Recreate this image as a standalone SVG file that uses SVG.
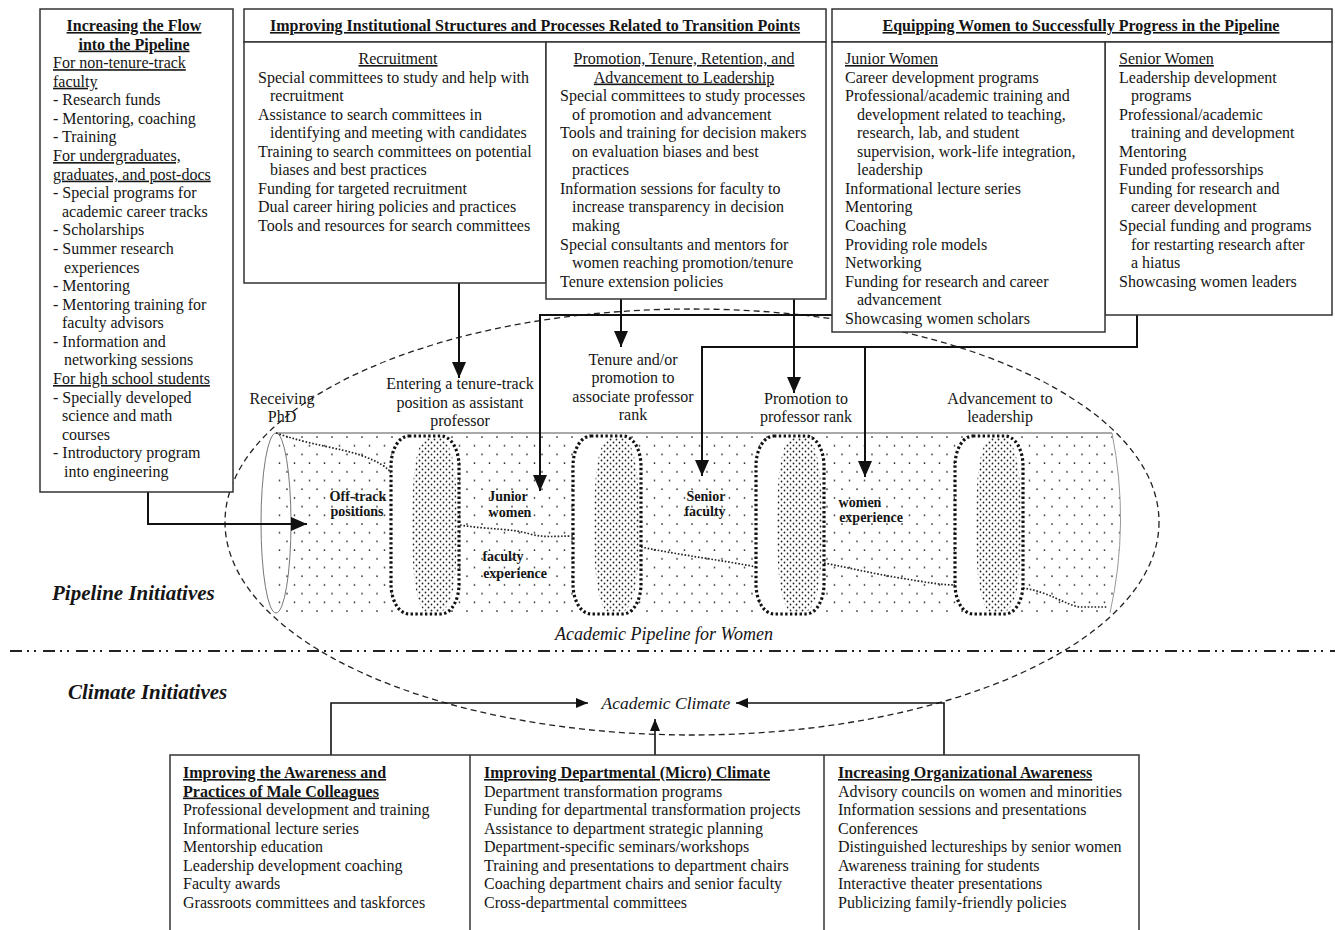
<svg xmlns="http://www.w3.org/2000/svg" width="1335" height="930" viewBox="0 0 1335 930">
<style>
.t{font-family:"Liberation Serif","Times New Roman",serif;font-size:16px;fill:#151515}
.b{font-weight:bold}
.u{text-decoration:underline}
.i{font-style:italic}
.c{text-anchor:middle}
.lbl{font-family:"Liberation Serif","Times New Roman",serif;font-size:14px;font-weight:bold;fill:#151515;text-anchor:middle}
.box{fill:#fff;stroke:#333;stroke-width:1.5}
.con{fill:none;stroke:#111;stroke-width:2}
.ring{fill:#fff;stroke:#111;stroke-width:3.2;stroke-dasharray:2.4 2.4}
.traj{fill:none;stroke:#222;stroke-width:1.7;stroke-dasharray:1.6 1.8}
</style>
<defs>
<pattern id="sparse" width="15" height="17.4" patternUnits="userSpaceOnUse"><circle cx="2" cy="2" r="0.9" fill="#222"/><circle cx="9.5" cy="10.7" r="0.9" fill="#222"/></pattern>
<pattern id="dense" width="6" height="6" patternUnits="userSpaceOnUse"><circle cx="1.5" cy="1.5" r="0.9" fill="#222"/><circle cx="4.5" cy="4.5" r="0.9" fill="#222"/></pattern>
<marker id="ah" markerUnits="userSpaceOnUse" markerWidth="16" markerHeight="14" refX="16" refY="7" orient="auto"><path d="M0,0 L16,7 L0,14 Z" fill="#111"/></marker>
<marker id="ahs" markerUnits="userSpaceOnUse" markerWidth="12" markerHeight="10" refX="12" refY="5" orient="auto"><path d="M0,0 L12,5 L0,10 Z" fill="#111"/></marker>
</defs>

<!-- pipeline -->
<g id="pipeline">
<path d="M276,433 L1112,433 Q1130,523 1110,613 L276,613 Z" fill="url(#sparse)"/>
<line x1="276" y1="433" x2="1112" y2="433" stroke="#555" stroke-width="1"/>
<path d="M1112,433 Q1130,523 1110,613" fill="none" stroke="#999" stroke-width="1"/>
<ellipse cx="276" cy="523" rx="15" ry="90" fill="none" stroke="#777" stroke-width="1"/>
<path class="traj" d="M276,433 C310,445 340,448 360,455 C380,462 388,468 392,474"/>
<path class="traj" d="M460,525 C490,530 510,528 530,534 C545,538 555,536 573,536"/>
<path class="traj" d="M641,547 C680,555 720,560 757,567"/>
<path class="traj" d="M824,563 C850,568 870,573 900,578 C925,582 940,585 956,585"/>
<path class="traj" d="M1023,588 C1050,592 1065,605 1080,607 L1108,607"/>
<g id="ring1" transform="translate(391,0)"><rect class="ring" x="0" y="436" width="68" height="178" rx="18" ry="30"/><path d="M35,438 C24,445 21,480 21,525 C21,570 24,606 35,612 L50,612 C62,606 66,580 66,525 C66,470 62,444 50,438 Z" fill="url(#dense)"/></g>
<g id="ring2" transform="translate(573,0)"><rect class="ring" x="0" y="436" width="68" height="178" rx="18" ry="30"/><path d="M35,438 C24,445 21,480 21,525 C21,570 24,606 35,612 L50,612 C62,606 66,580 66,525 C66,470 62,444 50,438 Z" fill="url(#dense)"/></g>
<g id="ring3" transform="translate(756,0)"><rect class="ring" x="0" y="436" width="68" height="178" rx="18" ry="30"/><path d="M35,438 C24,445 21,480 21,525 C21,570 24,606 35,612 L50,612 C62,606 66,580 66,525 C66,470 62,444 50,438 Z" fill="url(#dense)"/></g>
<g id="ring4" transform="translate(955,0)"><rect class="ring" x="0" y="436" width="68" height="178" rx="18" ry="30"/><path d="M35,438 C24,445 21,480 21,525 C21,570 24,606 35,612 L50,612 C62,606 66,580 66,525 C66,470 62,444 50,438 Z" fill="url(#dense)"/></g>
<text class="lbl"><tspan x="358" y="501">Off-track</tspan><tspan x="357" y="516">positions</tspan></text>
<text class="lbl"><tspan x="508" y="501">Junior</tspan><tspan x="510" y="517">women</tspan></text>
<text class="lbl"><tspan x="503" y="561">faculty</tspan><tspan x="515" y="578">experience</tspan></text>
<text class="lbl"><tspan x="706" y="501">Senior</tspan><tspan x="705" y="516">faculty</tspan></text>
<text class="lbl"><tspan x="860" y="507">women</tspan><tspan x="871" y="522">experience</tspan></text>
</g>

<ellipse id="pipeline-boundary" cx="692" cy="522" rx="467" ry="213" fill="none" stroke="#222" stroke-width="1.3" stroke-dasharray="6 4"/>
<line id="divider" x1="10" y1="651" x2="1335" y2="651" stroke="#222" stroke-width="2" stroke-dasharray="12 5 2 5 2 7"/>

<g id="stage-labels">
<text class="t c"><tspan x="282" y="404">Receiving</tspan><tspan x="282" y="422">PhD</tspan></text>
<text class="t c"><tspan x="460" y="389">Entering a tenure-track</tspan><tspan x="460" y="408">position as assistant</tspan><tspan x="460" y="426">professor</tspan></text>
<text class="t c"><tspan x="633" y="365">Tenure and/or</tspan><tspan x="633" y="383">promotion to</tspan><tspan x="633" y="402">associate professor</tspan><tspan x="633" y="420">rank</tspan></text>
<text class="t c"><tspan x="806" y="404">Promotion to</tspan><tspan x="806" y="422">professor rank</tspan></text>
<text class="t c"><tspan x="1000" y="404">Advancement to</tspan><tspan x="1000" y="422">leadership</tspan></text>
<text class="t i c" x="664" y="640" style="font-size:18px">Academic Pipeline for Women</text>
<text class="t i c" x="666" y="709" style="font-size:17.5px">Academic Climate</text>
<text class="t b i" x="52" y="600" style="font-size:21px">Pipeline Initiatives</text>
<text class="t b i" x="68" y="699" style="font-size:21px">Climate Initiatives</text>
</g>

<g id="connectors">
<polyline class="con" points="148,492 148,524 307,524" marker-end="url(#ah)"/>
<line class="con" x1="459" y1="283" x2="459" y2="378" marker-end="url(#ah)"/>
<line class="con" x1="621" y1="287" x2="621" y2="347" marker-end="url(#ah)"/>
<line class="con" x1="794" y1="287" x2="794" y2="393" marker-end="url(#ah)"/>
<polyline class="con" points="832,315 540,315 540,491" marker-end="url(#ah)"/>
<polyline class="con" points="1137,315 1137,347 702,347 702,476" marker-end="url(#ah)"/>
<line class="con" x1="865" y1="347" x2="865" y2="477" marker-end="url(#ah)"/>
<polyline class="con" points="331,755 331,703 588,703" marker-end="url(#ahs)" style="stroke-width:1.6"/>
<polyline class="con" points="944,755 944,703 736,703" marker-end="url(#ahs)" style="stroke-width:1.6"/>
<line class="con" x1="655" y1="755" x2="655" y2="719" marker-end="url(#ahs)" style="stroke-width:1.6"/>
</g>

<g id="flow-box">
<rect class="box" x="40" y="9" width="193" height="483"/>
<text class="t">
<tspan class="b u c" x="136" y="31">Increasing the Flow</tspan>
<tspan class="b u c" x="136" dy="18.58">into the Pipeline</tspan>
<tspan class="u" x="53" dy="18.58">For non-tenure-track</tspan>
<tspan class="u" x="53" dy="18.58">faculty</tspan>
<tspan x="53" dy="18.58">- Research funds</tspan>
<tspan x="53" dy="18.58">- Mentoring, coaching</tspan>
<tspan x="53" dy="18.58">- Training</tspan>
<tspan class="u" x="53" dy="18.58">For undergraduates,</tspan>
<tspan class="u" x="53" dy="18.58">graduates, and post-docs</tspan>
<tspan x="53" dy="18.58">- Special programs for</tspan>
<tspan x="62" dy="18.58">academic career tracks</tspan>
<tspan x="53" dy="18.58">- Scholarships</tspan>
<tspan x="53" dy="18.58">- Summer research</tspan>
<tspan x="64" dy="18.58">experiences</tspan>
<tspan x="53" dy="18.58">- Mentoring</tspan>
<tspan x="53" dy="18.58">- Mentoring training for</tspan>
<tspan x="62" dy="18.58">faculty advisors</tspan>
<tspan x="53" dy="18.58">- Information and</tspan>
<tspan x="64" dy="18.58">networking sessions</tspan>
<tspan class="u" x="53" dy="18.58">For high school students</tspan>
<tspan x="53" dy="18.58">- Specially developed</tspan>
<tspan x="62" dy="18.58">science and math</tspan>
<tspan x="62" dy="18.58">courses</tspan>
<tspan x="53" dy="18.58">- Introductory program</tspan>
<tspan x="64" dy="18.58">into engineering</tspan>
</text>
</g>

<g id="institutional-box">
<rect class="box" x="244" y="9" width="582" height="33"/>
<rect class="box" x="244" y="42" width="302" height="241"/>
<rect class="box" x="546" y="42" width="280" height="257"/>
<text class="t b u c" x="535" y="31">Improving Institutional Structures and Processes Related to Transition Points</text>
<text class="t">
<tspan class="u c" x="400" y="64">Recruitment</tspan>
<tspan x="258" dy="18.55">Special committees to study and help with</tspan>
<tspan x="270" dy="18.55">recruitment</tspan>
<tspan x="258" dy="18.55">Assistance to search committees in</tspan>
<tspan x="270" dy="18.55">identifying and meeting with candidates</tspan>
<tspan x="258" dy="18.55">Training to search committees on potential</tspan>
<tspan x="270" dy="18.55">biases and best practices</tspan>
<tspan x="258" dy="18.55">Funding for targeted recruitment</tspan>
<tspan x="258" dy="18.55">Dual career hiring policies and practices</tspan>
<tspan x="258" dy="18.55">Tools and resources for search committees</tspan>
</text>
<text class="t">
<tspan class="u c" x="686" y="64">Promotion, Tenure, Retention, and</tspan>
<tspan class="u c" x="686" dy="18.55">Advancement to Leadership</tspan>
<tspan x="560" dy="18.55">Special committees to study processes</tspan>
<tspan x="572" dy="18.55">of promotion and advancement</tspan>
<tspan x="560" dy="18.55">Tools and training for decision makers</tspan>
<tspan x="572" dy="18.55">on evaluation biases and best</tspan>
<tspan x="572" dy="18.55">practices</tspan>
<tspan x="560" dy="18.55">Information sessions for faculty to</tspan>
<tspan x="572" dy="18.55">increase transparency in decision</tspan>
<tspan x="572" dy="18.55">making</tspan>
<tspan x="560" dy="18.55">Special consultants and mentors for</tspan>
<tspan x="572" dy="18.55">women reaching promotion/tenure</tspan>
<tspan x="560" dy="18.55">Tenure extension policies</tspan>
</text>
</g>

<g id="equipping-box">
<rect class="box" x="832" y="9" width="500" height="33"/>
<rect class="box" x="1105" y="42" width="227" height="273"/>
<rect class="box" x="832" y="42" width="273" height="290"/>
<text class="t b u c" x="1081" y="31">Equipping Women to Successfully Progress in the Pipeline</text>
<text class="t">
<tspan class="u" x="845" y="64">Junior Women</tspan>
<tspan x="845" dy="18.55">Career development programs</tspan>
<tspan x="845" dy="18.55">Professional/academic training and</tspan>
<tspan x="857" dy="18.55">development related to teaching,</tspan>
<tspan x="857" dy="18.55">research, lab, and student</tspan>
<tspan x="857" dy="18.55">supervision, work-life integration,</tspan>
<tspan x="857" dy="18.55">leadership</tspan>
<tspan x="845" dy="18.55">Informational lecture series</tspan>
<tspan x="845" dy="18.55">Mentoring</tspan>
<tspan x="845" dy="18.55">Coaching</tspan>
<tspan x="845" dy="18.55">Providing role models</tspan>
<tspan x="845" dy="18.55">Networking</tspan>
<tspan x="845" dy="18.55">Funding for research and career</tspan>
<tspan x="857" dy="18.55">advancement</tspan>
<tspan x="845" dy="18.55">Showcasing women scholars</tspan>
</text>
<text class="t">
<tspan class="u" x="1119" y="64">Senior Women</tspan>
<tspan x="1119" dy="18.55">Leadership development</tspan>
<tspan x="1131" dy="18.55">programs</tspan>
<tspan x="1119" dy="18.55">Professional/academic</tspan>
<tspan x="1131" dy="18.55">training and development</tspan>
<tspan x="1119" dy="18.55">Mentoring</tspan>
<tspan x="1119" dy="18.55">Funded professorships</tspan>
<tspan x="1119" dy="18.55">Funding for research and</tspan>
<tspan x="1131" dy="18.55">career development</tspan>
<tspan x="1119" dy="18.55">Special funding and programs</tspan>
<tspan x="1131" dy="18.55">for restarting research after</tspan>
<tspan x="1131" dy="18.55">a hiatus</tspan>
<tspan x="1119" dy="18.55">Showcasing women leaders</tspan>
</text>
</g>

<g id="climate-box">
<rect class="box" x="170" y="755" width="969" height="200"/>
<line x1="470" y1="755" x2="470" y2="935" stroke="#333" stroke-width="1.5"/>
<line x1="824" y1="755" x2="824" y2="935" stroke="#333" stroke-width="1.5"/>
<text class="t">
<tspan class="b u" x="183" y="778">Improving the Awareness and</tspan>
<tspan class="b u" x="183" dy="18.55">Practices of Male Colleagues</tspan>
<tspan x="183" dy="18.55">Professional development and training</tspan>
<tspan x="183" dy="18.55">Informational lecture series</tspan>
<tspan x="183" dy="18.55">Mentorship education</tspan>
<tspan x="183" dy="18.55">Leadership development coaching</tspan>
<tspan x="183" dy="18.55">Faculty awards</tspan>
<tspan x="183" dy="18.55">Grassroots committees and taskforces</tspan>
</text>
<text class="t">
<tspan class="b u" x="484" y="778">Improving Departmental (Micro) Climate</tspan>
<tspan x="484" dy="18.55">Department transformation programs</tspan>
<tspan x="484" dy="18.55">Funding for departmental transformation projects</tspan>
<tspan x="484" dy="18.55">Assistance to department strategic planning</tspan>
<tspan x="484" dy="18.55">Department-specific seminars/workshops</tspan>
<tspan x="484" dy="18.55">Training and presentations to department chairs</tspan>
<tspan x="484" dy="18.55">Coaching department chairs and senior faculty</tspan>
<tspan x="484" dy="18.55">Cross-departmental committees</tspan>
</text>
<text class="t">
<tspan class="b u" x="838" y="778">Increasing Organizational Awareness</tspan>
<tspan x="838" dy="18.55">Advisory councils on women and minorities</tspan>
<tspan x="838" dy="18.55">Information sessions and presentations</tspan>
<tspan x="838" dy="18.55">Conferences</tspan>
<tspan x="838" dy="18.55">Distinguished lectureships by senior women</tspan>
<tspan x="838" dy="18.55">Awareness training for students</tspan>
<tspan x="838" dy="18.55">Interactive theater presentations</tspan>
<tspan x="838" dy="18.55">Publicizing family-friendly policies</tspan>
</text>
</g>
</svg>
